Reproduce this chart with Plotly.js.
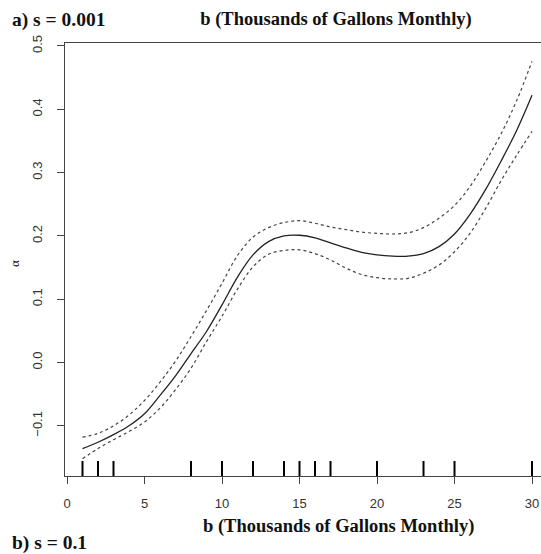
<!DOCTYPE html>
<html>
<head>
<meta charset="utf-8">
<script src="https://cdn.plot.ly/plotly-3.0.1.min.js"></script>
<style>html,body{margin:0;padding:0;background:#fff;}#chart{width:541px;height:554px;}</style>
</head>
<body>
<div id="chart"></div>
<script>
// Water use b (thousands of gallons monthly)
const bValues = [1,2,3,4,5,6,7,8,9,10,11,12,13,14,15,16,17,18,19,20,21,22,23,24,25,26,27,28,29,30];
// fitted alpha
const alphaFit = [-0.136,-0.126,-0.114,-0.100,-0.081,-0.052,-0.021,0.014,0.049,0.091,0.135,0.170,0.191,0.200,0.201,0.197,0.189,0.181,0.174,0.170,0.168,0.168,0.172,0.183,0.203,0.234,0.273,0.318,0.366,0.422];
// upper confidence band
const alphaUpper = [-0.118,-0.112,-0.100,-0.083,-0.060,-0.031,0.002,0.041,0.082,0.125,0.169,0.198,0.213,0.221,0.224,0.220,0.214,0.210,0.206,0.204,0.203,0.205,0.213,0.228,0.248,0.278,0.317,0.361,0.413,0.476];
// lower confidence band
const alphaLower = [-0.152,-0.136,-0.122,-0.109,-0.094,-0.072,-0.043,-0.009,0.033,0.073,0.116,0.151,0.171,0.177,0.178,0.172,0.162,0.149,0.139,0.134,0.132,0.133,0.141,0.154,0.175,0.204,0.243,0.287,0.327,0.365];
// observed b values (rug)
const rugValues = [1,2,3,8,10,12,14,15,16,17,20,23,25,30];
// tick labels
const xTickVals = [0,5,10,15,20,25,30];
const yTickVals = [-0.1,0,0.1,0.2,0.3,0.4,0.5];
const yTickText = ['\u22120.1','0.0','0.1','0.2','0.3','0.4','0.5'];

const xRange = [-0.129, 30.58];
const yRange = [-0.1793, 0.5047];
const plotH = 433;
const rugLen = (yRange[1]-yRange[0]) * 15 / plotH;

const rugX = [], rugY = [];
rugValues.forEach(v => { rugX.push(v, v, null); rugY.push(yRange[0], yRange[0] + rugLen, null); });

const traces = [
  {x: bValues, y: alphaUpper, mode: 'lines', line: {color: '#444', width: 1.2, dash: '3px,3px', shape: 'spline', smoothing: 1}, hoverinfo: 'skip'},
  {x: bValues, y: alphaLower, mode: 'lines', line: {color: '#444', width: 1.2, dash: '3px,3px', shape: 'spline', smoothing: 1}, hoverinfo: 'skip'},
  {x: bValues, y: alphaFit, mode: 'lines', line: {color: '#222', width: 1.3, shape: 'spline', smoothing: 1}},
  {x: rugX, y: rugY, mode: 'lines', line: {color: '#000', width: 2}, hoverinfo: 'skip', cliponaxis: false}
];

const serif = 'Liberation Serif, Times New Roman, serif';
const sans = 'Liberation Sans, Arial, sans-serif';
const px2x = p => (p - 65) / 476;
const py2y = p => (476 - p) / 433;

const layout = {
  width: 541, height: 554,
  margin: {l: 65, r: 0, t: 43, b: 78},
  paper_bgcolor: '#fff', plot_bgcolor: '#fff',
  showlegend: false,
  title: {text: '<b>b (Thousands of Gallons Monthly)</b>', font: {family: serif, size: 18.5, color: '#111'},
          xref: 'container', x: 336/541, xanchor: 'center', yref: 'container', y: 1 - 19/554, yanchor: 'middle'},
  xaxis: {range: xRange, tickvals: xTickVals, ticks: 'outside', ticklen: 7, tickcolor: '#444', tickwidth: 1,
          showline: true, linecolor: '#444', linewidth: 1, mirror: true, showgrid: false, zeroline: false,
          tickfont: {family: sans, size: 13, color: '#333'}, ticklabelstandoff: 8},
  yaxis: {range: yRange, tickvals: yTickVals, ticktext: yTickText, tickangle: -90, ticks: 'outside', ticklen: 7,
          tickcolor: '#444', tickwidth: 1, showline: true, linecolor: '#444', linewidth: 1, mirror: false,
          showgrid: false, zeroline: false, tickfont: {family: sans, size: 13, color: '#333'}, ticklabelstandoff: 10},
  annotations: [
    {text: '<b>a) s = 0.001</b>', xref: 'paper', yref: 'paper', x: px2x(10), y: py2y(20), xanchor: 'left', yanchor: 'middle',
     showarrow: false, font: {family: serif, size: 19.5, color: '#111'}},
    {text: '<b>b (Thousands of Gallons Monthly)</b>', xref: 'paper', yref: 'paper', x: px2x(338), y: py2y(526), xanchor: 'center', yanchor: 'middle',
     showarrow: false, font: {family: serif, size: 18.5, color: '#111'}},
    {text: '<b>b) s = 0.1</b>', xref: 'paper', yref: 'paper', x: px2x(10), y: py2y(543), xanchor: 'left', yanchor: 'middle',
     showarrow: false, font: {family: serif, size: 19.5, color: '#111'}},
    {text: '\u03b1', xref: 'paper', yref: 'paper', x: px2x(14), y: py2y(264), xanchor: 'center', yanchor: 'middle', textangle: -90,
     showarrow: false, font: {family: serif, size: 13, color: '#111'}}
  ]
};

Plotly.newPlot('chart', traces, layout, {displayModeBar: false, staticPlot: true});
</script>
</body>
</html>
